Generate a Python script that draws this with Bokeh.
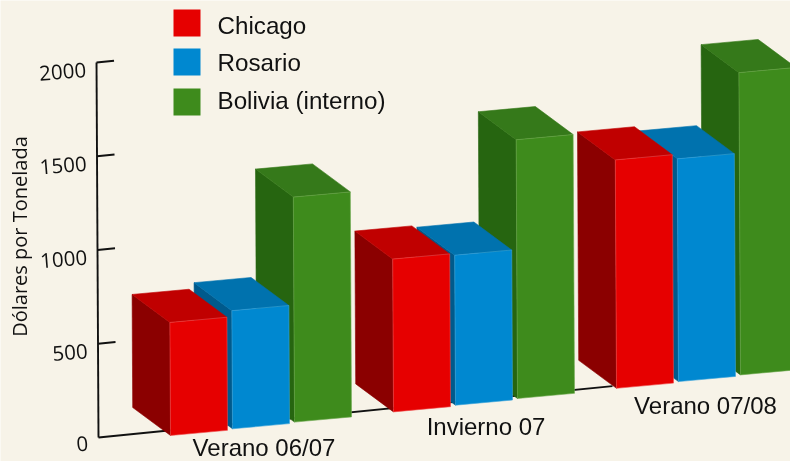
from bokeh.plotting import figure
from bokeh.models import ColumnDataSource, Range1d
from bokeh.core.properties import value
from bokeh.embed import file_html
from bokeh.resources import INLINE

categories = ["Verano 06/07", "Invierno 07", "Verano 07/08"]
series_names = ["Chicago", "Rosario", "Bolivia (interno)"]
chicago = [603, 815, 1218]
rosario = [630, 800, 1188]
bolivia = [1200, 1380, 1612]
y_ticks = [0, 500, 1000, 1500, 2000]
y_title = "Dólares por Tonelada"

BG = "#F7F3E8"
front = ["#E60000", "#0088D0", "#3E8B1C"]
top = ["#C00000", "#0072AE", "#35791A"]
side = ["#8B0000", "#005A8C", "#266510"]
edge = ["#F04A4A", "#3AA4DC", "#6BA84E"]

PX = 0.1875        # pixels per dollar
LEAN = 0.0053
W = (57.0, -5.2)   # bar face width
D = (-37.8, -28.0) # bar depth
S = (62.0, -6.7)   # step between series
G = (223.0, -23.6) # step between groups
O = (170.0, 435.0) # ground corner of first bar


def proj(gs, ss, w, d, v):
    """gs,ss: group/series position; w,d: 0..1 across the bar; v: dollars."""
    h = v * PX
    x = O[0] + gs * G[0] + ss * S[0] + w * W[0] + d * D[0] - LEAN * h
    y = O[1] + gs * G[1] + ss * S[1] + w * W[1] + d * D[1] - h
    return x, y


def face(g, s, corners, v):
    pts = [proj(g, s, w, d, v * k) for w, d, k in corners]
    return [p[0] for p in pts], [p[1] for p in pts]


p = figure(width=790, height=461, x_range=Range1d(0, 790), y_range=Range1d(461, 0),
           output_backend="svg", toolbar_location=None, min_border=0,
           background_fill_color=BG, border_fill_color=BG)
p.axis.visible = False
p.grid.visible = False
p.outline_line_color = None
p.styles = {"position": "fixed", "left": "0px", "top": "0px"}


# value axis and ground line
def ax(v, t=0.0):
    return 98.0 - LEAN * v * PX + t * 1.0, 437.0 - v * PX - t * 0.1


AX_W = 1.9
p.line([ax(0)[0], ax(max(y_ticks))[0]], [ax(0)[1], ax(max(y_ticks))[1]], line_color="#111111", line_width=AX_W)
g_end = 514.0
p.line([ax(0)[0], ax(0, g_end)[0]], [ax(0)[1], ax(0, g_end)[1]], line_color="#111111", line_width=AX_W)
for t in y_ticks[1:]:
    p.line([ax(t)[0], ax(t, 17.5)[0]], [ax(t)[1], ax(t, 17.5)[1]], line_color="#111111", line_width=AX_W)

# bars, drawn from right to left so nearer faces cover farther ones
rows = [chicago, rosario, bolivia]
xs, ys, fills, lines = [], [], [], []
for g in reversed(range(len(categories))):
    for s in reversed(range(len(rows))):
        v = rows[s][g]
        fx, fy = face(g, s, [(0, 1, 0), (0, 0, 0), (0, 0, 1), (0, 1, 1)], v)
        xs.append(fx); ys.append(fy); fills.append(side[s]); lines.append(side[s])
        fx, fy = face(g, s, [(0, 1, 1), (0, 0, 1), (1, 0, 1), (1, 1, 1)], v)
        xs.append(fx); ys.append(fy); fills.append(top[s]); lines.append(top[s])
        fx, fy = face(g, s, [(0, 0, 0), (1, 0, 0), (1, 0, 1), (0, 0, 1)], v)
        xs.append(fx); ys.append(fy); fills.append(front[s]); lines.append(edge[s])
p.patches("xs", "ys", source=ColumnDataSource(dict(xs=xs, ys=ys, f=fills, l=lines)),
          fill_color="f", line_color="l", line_width=0.6, line_join="miter")

# tick labels
tick_font = value("Open Sans")
p.text([ax(t)[0] - 10.5 for t in y_ticks], [ax(t)[1] + (6 if t == 0 else 7.5) for t in y_ticks],
       text=[str(t) for t in y_ticks], text_font=tick_font, text_font_size="20.5px",
       text_align="right", text_baseline="middle", text_color="#111111", angle=0.08)

# value axis title
p.text([19], [236], text=[y_title], text_font=value("Open Sans"), text_font_size="20px",
       text_align="center", text_baseline="middle", text_color="#111111", angle=1.5708)

# category labels
cat_x = [263.5, 485.5, 705]
cat_y = [447, 426, 405]
p.text(cat_x, cat_y, text=categories, text_font=value("Liberation Sans"), text_font_size="24px",
       text_align="center", text_baseline="middle", text_color="#111111")

# legend
leg_y = [22.5, 61.5, 101.5]
p.scatter([186.5] * 3, leg_y, marker="square", size=27, fill_color=front, line_color=None)
p.text([217] * 3, [25, 62, 100], text=series_names, text_font=value("Liberation Sans"), text_font_size="24.2px",
       text_align="left", text_baseline="middle", text_color="#111111")

open("out.html", "w").write(file_html(p, INLINE))
